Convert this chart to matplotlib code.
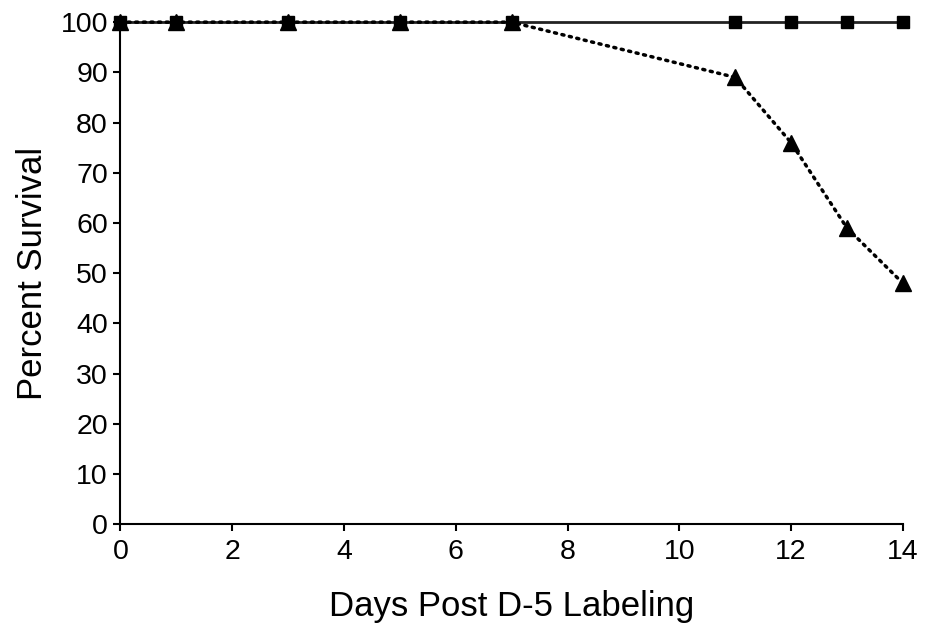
import matplotlib
matplotlib.use("Agg")
import matplotlib.pyplot as plt

plt.rcParams['font.family'] = ['Liberation Sans', 'DejaVu Sans']

days = [0, 1, 3, 5, 7, 11, 12, 13, 14]
control_survival = [100, 100, 100, 100, 100, 100, 100, 100, 100]
labeled_survival = [100, 100, 100, 100, 100, 89, 76, 59, 48]
x_ticks = [0, 2, 4, 6, 8, 10, 12, 14]
y_ticks = [0, 10, 20, 30, 40, 50, 60, 70, 80, 90, 100]

fig, ax = plt.subplots(figsize=(9.26, 6.33), dpi=100)
fig.subplots_adjust(left=0.13, right=0.975, top=0.965, bottom=0.172)

ax.plot(days, control_survival, color='#222222', linewidth=2, marker='s',
        markersize=9, markerfacecolor='black', markeredgecolor='black', clip_on=False, zorder=3)
ax.plot(days, labeled_survival, color='black', linewidth=2.5, linestyle=(0, (0.6, 1.6)),
        dash_capstyle='round', marker='^', markersize=12, markerfacecolor='black',
        markeredgecolor='black', clip_on=False, zorder=4)

ax.set_xlim(0, 14)
ax.set_ylim(0, 100)
ax.set_xticks(x_ticks)
ax.set_yticks(y_ticks)
ax.tick_params(axis='both', labelsize=20.5, width=1.5, length=5, direction='out', colors='black')
ax.tick_params(axis='x', pad=6)
ax.tick_params(axis='y', pad=4)
ax.spines['top'].set_visible(False)
ax.spines['right'].set_visible(False)
ax.spines['left'].set_linewidth(1.5)
ax.spines['bottom'].set_linewidth(1.5)

ax.set_xlabel('Days Post D-5 Labeling', fontsize=25, labelpad=18)
ax.set_ylabel('Percent Survival', fontsize=25, labelpad=8)

fig.savefig('out.png', dpi=100)
